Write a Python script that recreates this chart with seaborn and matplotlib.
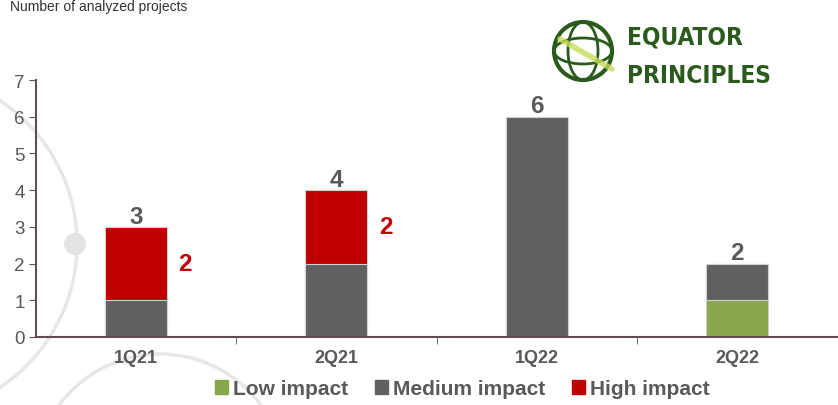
import numpy as np
import pandas as pd
import matplotlib
matplotlib.use("Agg")
from matplotlib import pyplot as plt
from matplotlib.patches import Circle, Ellipse, Patch
import seaborn as sns

quarters = ['1Q21', '2Q21', '1Q22', '2Q22']
low_impact = [0, 0, 0, 1]
medium_impact = [1, 2, 6, 1]
high_impact = [2, 2, 0, 0]

GREEN = '#8aa64a'
GRAY = '#606060'
RED = '#c00000'
TXT = '#595959'
AXC = '#5f5050'

sns.set_style('white')
plt.rcParams['font.family'] = ['Liberation Sans', 'DejaVu Sans']

df = pd.DataFrame({'quarter': quarters, 'low': low_impact,
                   'medium': medium_impact, 'high': high_impact})
df['low_med'] = df['low'] + df['medium']
df['total'] = df['low_med'] + df['high']

fig = plt.figure(figsize=(8.38, 4.06), dpi=100)

# faint decorative circles in the background
bg = fig.add_axes([0, 0, 1, 1], zorder=-5)
bg.set_xlim(0, 838)
bg.set_ylim(406, 0)
bg.axis('off')
bg.add_patch(Circle((-95, 245), 172, fill=False, ec='#e6e7e9', lw=2.5))
bg.add_patch(Circle((75, 245), 11, color='#e3e4e6', lw=0))
bg.add_patch(Circle((160, 480), 125, fill=False, ec='#e6e7e9', lw=2.5))

ax = fig.add_axes([36 / 838, 68 / 406, 801 / 838, 257 / 406])
bw = 0.31
# draw stacks from the tallest layer down
sns.barplot(data=df, x='quarter', y='total', color=RED, width=bw, saturation=1,
            edgecolor='#d0d0d0', linewidth=0.8, ax=ax)
sns.barplot(data=df, x='quarter', y='low_med', color=GRAY, width=bw, saturation=1,
            edgecolor='#d0d0d0', linewidth=0.8, ax=ax)
sns.barplot(data=df, x='quarter', y='low', color=GREEN, width=bw, saturation=1,
            edgecolor='#d0d0d0', linewidth=0.8, ax=ax)

ax.set_xlim(-0.5, 3.5)
ax.set_ylim(0, 7)
ax.set_xlabel('')
ax.set_ylabel('')
ax.set_yticks(range(0, 8))
ax.tick_params(axis='y', labelsize=13.5, labelcolor=TXT, color=AXC, length=5,
               direction='out', left=True, pad=3)
ax.set_xticks(range(4))
ax.set_xticklabels(quarters, fontsize=13, fontweight='bold', color=TXT)
ax.set_xticks([0.5, 1.5, 2.5], minor=True)
ax.tick_params(axis='x', which='major', length=0, pad=9)
ax.tick_params(axis='x', which='minor', length=5, color=AXC, bottom=True)
for s in ['top', 'right']:
    ax.spines[s].set_visible(False)
for s in ['left', 'bottom']:
    ax.spines[s].set_color(AXC)
    ax.spines[s].set_linewidth(1.5)
ax.patch.set_alpha(0)

# totals above bars
for i, t in enumerate(df['total']):
    ax.text(i, t - 0.02, str(t), ha='center', va='bottom', fontsize=17.5,
            fontweight='bold', color=TXT)
# high impact labels next to red segments
for i, (b, h) in enumerate(zip(df['low_med'], df['high'])):
    if h > 0:
        ax.text(i + 0.245, b + h / 2, str(h), ha='center', va='center',
                fontsize=17.5, fontweight='bold', color=RED)

# legend
handles = [Patch(color=GREEN, label='Low impact'),
           Patch(color=GRAY, label='Medium impact'),
           Patch(color=RED, label='High impact')]
fig.legend(handles=handles, loc='lower center', bbox_to_anchor=(0.552, -0.03),
           ncol=3, frameon=False, handlelength=0.6, handleheight=0.6,
           handletextpad=0.25, columnspacing=1.3,
           prop={'size': 15, 'weight': 'bold'}, labelcolor=TXT)

fig.text(10 / 838, 0.999, 'Number of analyzed projects', fontsize=10,
         color='#333333', va='top', ha='left')

# logo
lg = '#2a5a1c'
bg.add_patch(Circle((583, 52), 29, fill=False, ec=lg, lw=3))
bg.add_patch(Ellipse((583, 52), 30, 58, fill=False, ec=lg, lw=2))
bg.add_patch(Ellipse((583, 52), 58, 26, fill=False, ec=lg, lw=2))
bg.plot([560, 612], [40, 70], color='#c8dc5a', lw=4, alpha=0.8)
logo_font = dict(fontsize=17.5, fontweight='heavy', color=lg, va='center',
                 ha='left', family='DejaVu Sans', fontstretch='condensed')
bg.text(627, 38, 'EQUATOR', **logo_font)
bg.text(627, 76, 'PRINCIPLES', **logo_font)

fig.savefig('out.png', dpi=100)
